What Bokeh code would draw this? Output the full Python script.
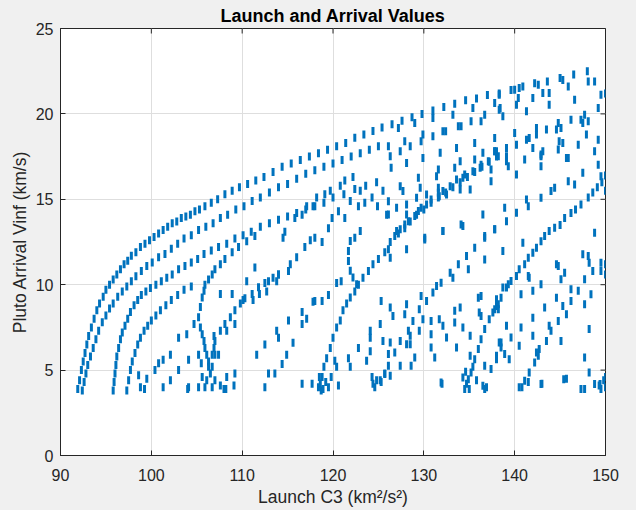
import math
from bokeh.plotting import figure
from bokeh.models import FixedTicker, Range1d, ColumnDataSource
from bokeh.embed import file_html
from bokeh.resources import INLINE

# ---------------- data (Launch C3, Pluto arrival Vinf) ----------------
x_ticks = [90, 100, 110, 120, 130, 140, 150]
y_ticks = [0, 5, 10, 15, 20, 25]

curve_outer = [(91.9,3.9),(92.1,4.4),(92.3,5.0),(92.5,5.5),(92.7,6.0),(92.9,6.5),(93.1,7.0),(93.4,7.5),
    (93.7,8.0),(94.0,8.5),(94.3,8.9),(94.7,9.3),(95.0,9.7),(95.4,10.0),(95.8,10.3),(96.2,10.6),(96.6,10.9),
    (97.0,11.2),(97.4,11.4),(97.8,11.7),(98.3,11.9),(98.8,12.2),(99.3,12.4),(99.8,12.6),(100.3,12.8),
    (100.8,13.0),(101.3,13.2),(101.8,13.4),(102.3,13.6),(102.8,13.7),(103.3,13.9),(103.8,14.0),(104.3,14.1),
    (104.8,14.3),(105.3,14.4),(105.9,14.6),(106.6,14.8),(107.3,15.0),(108.1,15.3),(108.9,15.5),(109.7,15.7),
    (110.6,15.9),(111.5,16.1),(112.4,16.3),(113.4,16.6),(114.4,16.9),(115.4,17.1),(116.4,17.3),(117.4,17.5),
    (118.4,17.7),(119.4,17.9),(120.4,18.1),(121.4,18.3),(122.4,18.6),(123.4,18.8),(124.4,19.0),(125.4,19.2),
    (126.5,19.4),(127.6,19.6),(128.7,19.8),(129.8,20.0),(131.0,20.2),(132.2,20.4),(133.4,20.6),(134.6,20.8),
    (135.8,20.9),(137.0,21.1),(138.3,21.2),(139.6,21.4),(140.9,21.6),(142.2,21.8),(143.6,21.9),(145.0,22.1),
    (146.5,22.3),(148.0,22.5)]

curve_second = [(92.4,3.8),(92.6,4.3),(92.8,4.8),(93.0,5.3),(93.3,5.8),(93.6,6.3),(93.9,6.8),(94.2,7.3),
    (94.6,7.8),(95.0,8.2),(95.4,8.6),(95.8,8.9),(96.3,9.3),(96.8,9.6),(97.3,9.9),(97.8,10.2),(98.3,10.5),
    (98.9,10.8),(99.5,11.1),(100.1,11.3),(100.8,11.6),(101.5,11.8),(102.2,12.1),(102.9,12.4),(103.6,12.7),
    (104.4,12.9),(105.2,13.2),(106.0,13.4),(106.8,13.6),(107.6,13.9),(108.4,14.1),(109.3,14.4),(110.2,14.6),
    (111.1,14.9),(112.0,15.1),(113.0,15.4),(114.0,15.7),(115.0,15.9),(116.0,16.2),(117.0,16.5),(118.0,16.7),
    (119.0,16.9),(120.0,17.1),(121.0,17.3),(122.0,17.5),(123.0,17.7),(124.0,17.9),(125.0,18.1)]

curve_third = [(95.8,3.8),(95.9,4.3),(96.0,4.8),(96.1,5.3),(96.2,5.8),(96.4,6.3),(96.6,6.8),(96.8,7.2),
    (97.1,7.6),(97.4,8.0),(97.7,8.4),(98.1,8.8),(98.5,9.1),(98.9,9.4),(99.4,9.6),(99.9,9.8),(100.5,10.0),
    (101.1,10.2),(101.7,10.4),(102.3,10.6),(103.0,10.9),(103.7,11.1),(104.4,11.3),(105.1,11.5),(105.8,11.8),
    (106.6,12.0),(107.4,12.2),(108.3,12.4),(109.2,12.7),(110.1,12.9),(111.0,13.1),(112.0,13.4),(113.0,13.6),
    (114.0,13.8),(115.0,14.0),(116.0,14.2),(117.0,14.4),(118.0,14.6),(119.0,14.8),(120.0,15.1),(121.2,15.3),
    (122.4,15.6),(123.6,15.8),(124.8,16.0)]

curve_fourth = [(97.3,3.8),(97.5,4.4),(97.7,5.0),(97.9,5.5),(98.2,6.0),(98.5,6.5),(98.8,6.9),(99.2,7.3),
    (99.6,7.6),(100.0,7.9),(100.5,8.2),(101.0,8.5),(101.6,8.8),(102.2,9.1),(102.9,9.4),(103.6,9.7),(104.4,9.9)]

hook_points = [(105.2,8.1),(105.4,8.7),(105.6,9.25),(105.8,9.65),(105.9,10.0),(106.3,10.3),(106.7,10.6),
    (107.0,10.9),(107.6,11.2),(108.1,11.5),(108.9,11.9),(109.6,12.2),(110.5,12.55),(111.4,12.85),
    (105.4,7.5),(105.6,7.1),(105.8,6.7),(105.9,6.3),(106.1,5.9),(106.3,5.5),(106.3,5.2),(106.5,4.8),
    (106.1,4.4),(105.9,4.0),(106.7,5.9),(106.9,6.3),(107.0,5.9),(106.7,5.2),(107.0,4.4),(106.7,4.0),
    (105.6,4.6),(105.5,5.4),(106.9,7.0),
    (107.0,6.7),(107.6,7.3),(108.1,7.7),(108.7,8.1),(109.2,8.5),(109.8,8.9),(110.3,9.2),(111.1,9.45),
    (111.8,9.85),(112.5,10.1),(113.4,10.4),(114.0,10.6),(115.1,10.8),(115.3,11.2),(116.0,11.6),
    (116.9,12.2),(117.5,12.6),(118.0,12.75),(118.8,12.5),(119.5,13.3),(119.9,13.9),(120.6,14.3),
    (121.3,13.9),(121.9,14.9),(122.8,14.6),(123.0,15.5),(123.5,14.8),(124.3,15.1),(124.9,14.6),
    (125.5,15.5),(125.9,14.1),(114.5,12.75),(114.7,13.1),(115.8,13.9),(116.6,14.1),(117.1,14.6),
    (117.8,14.6),(118.2,15.1),(119.1,15.3),(119.7,15.5),(120.8,15.8),(121.3,16.1),(122.2,16.3)]

sparse_low_left = [(98.6,4.7),(98.8,4.0),(99.5,4.5),(100.4,5.0),(100.8,5.4),(101.3,5.6),(101.3,4.0),
    (102.1,5.9),(102.1,4.4),(103.0,6.9),(103.0,5.0),(103.9,7.1),(104.1,5.6),(104.1,4.0),(104.7,7.7),
    (105.2,5.9),(105.2,4.0),(107.4,5.9),(107.6,9.45),(108.3,7.3),(108.3,4.6),(108.9,9.45),(109.2,7.7),
    (109.2,4.8),(110.1,9.1),(110.5,10.2),(111.4,11.0),(111.6,5.9),(112.5,6.5),(112.5,4.0),(112.9,4.8),
    (112.7,9.6),(112.9,10.2),(111.9,9.45),(111.2,9.1),(108.0,3.9),(109.1,4.1)]

mid_scatter = [(113.6,4.8),(114.4,5.35),(114.9,5.9),(115.6,6.6),(116.6,7.7),(117.1,8.0),(118.0,9.05),
    (118.8,9.05),(119.5,9.4),(120.4,10.1),(120.9,10.2),(113.8,10.2),(114.0,10.6),(115.1,7.9),(113.8,7.3),
    (114.0,6.9),(116.6,8.4),(117.8,9.0),(120.2,5.55),(120.4,5.2),(121.7,5.7),(121.9,5.2),(122.8,6.3),
    (124.1,6.9),(124.1,6.1),(123.7,5.55),(124.3,4.6),(124.8,4.4),(125.2,4.4),(125.7,4.8),(125.3,9.05),
    (124.1,7.3),(125.2,7.7),(125.5,6.7),(116.6,4.2),(117.7,4.2),(118.4,4.0),
    (121.9,12.56),(121.7,11.97),(121.7,11.39),(121.9,10.81),(122.2,10.42),(122.6,10.03),(122.4,12.75),
    (123.0,13.14),
    (126.1,12.07),(128.1,12.07),(126.3,11.58),(130.1,12.65),(132.1,13.14),(134.3,13.43),(137.8,13.24),
    (136.7,12.75),(135.6,12.16),(134.7,11.68),(136.7,11.48),(133.8,11.19),(134.9,10.90),(132.9,10.70),
    (133.2,10.41),(131.9,10.12),(131.4,9.93),(131.0,9.54),(130.3,9.05),(129.7,9.34),
    (126.3,8.66),(126.6,8.17),(128.1,8.85),(127.9,8.27),(128.8,7.88),(129.5,8.56),(129.9,7.98),
    (129.5,7.30),(128.3,7.30),(128.5,7.01),(128.1,6.52),(127.4,6.71),(126.3,6.62),(126.8,6.03),
    (128.5,6.52),(127.4,5.25),(128.6,5.25),(129.0,5.74),(126.1,5.94),(126.1,5.25),(125.7,4.77),
    (126.3,4.67),(130.8,7.88),(130.8,7.10),(130.8,6.33),(131.2,5.74),(131.7,7.98),(132.1,7.59),
    (132.5,6.91),(133.4,8.47),(133.4,7.78),(134.0,8.66),(134.3,7.49),(135.1,7.01),(133.6,6.33),
    (135.1,5.84),(131.9,4.28),(134.3,4.57)]

diag_mid = [(118.6,4.2),(118.7,3.8),(118.8,4.6),(119.0,5.2),(119.3,5.7),(119.7,6.3),(120.0,6.9),
    (120.4,7.5),(120.8,7.9),(121.1,8.5),(121.5,8.9),(121.9,9.25),(122.4,9.6),(122.8,10.0),(123.3,10.4),
    (123.9,10.8),(124.4,11.2),(125.0,11.5),(125.7,11.9),(126.3,12.5),(126.8,12.85),(127.2,13.0),
    (127.9,13.3),(128.5,13.7),(129.2,14.1),(130.0,14.4),(130.8,14.8),(131.6,15.1),(132.4,15.4),
    (133.2,15.7),(134.0,16.0),(134.8,16.3),(135.6,16.6),(136.4,16.9),(137.2,17.2),(138.0,17.5),
    (118.9,3.9),(119.2,4.3),(119.5,4.0),(119.8,4.6),(118.5,4.6)]

diag_right = [(134.5,3.89),(134.9,4.47),(135.2,4.86),(135.6,5.64),(136.0,6.23),(136.3,6.81),(136.7,7.40),
    (137.2,7.98),(137.6,8.37),(138.0,8.76),(136.0,9.24),(136.3,9.34),(136.1,8.37),(136.3,8.17),
    (136.7,5.25),(136.5,4.08),(138.0,5.84),(137.4,5.06),(138.3,6.62),(134.7,4.2),(135.0,3.9),(135.4,5.2),
    (135.8,4.4),(136.9,4.0),(134.6,4.9),
    (137.8,8.56),(138.2,8.85),(138.5,9.24),(138.7,9.83),(139.1,9.83),(139.3,10.02),(139.6,10.22),
    (140.2,10.51),(140.5,10.90),(141.1,11.19),(141.5,11.58),(142.0,11.87),(142.4,12.16),(142.9,12.55),
    (143.3,12.85),(143.8,13.14),(144.4,13.33),(145.0,13.5),(145.5,13.9),(146.2,14.2),(146.7,14.4),
    (147.3,14.7),(148.1,15.1),(148.6,15.4),(149.1,15.7),(149.6,16.0),(150.0,16.4)]

right_scatter = [(140.9,12.46),(138.7,11.97),(141.5,10.51),(141.6,10.41),(142.9,10.02),(140.7,9.44),
    (142.0,9.64),(143.3,8.66),(144.6,11.19),(144.8,11.09),(145.5,10.70),(145.1,10.32),(144.6,9.24),
    (145.3,8.76),(145.7,8.27),(146.2,9.73),(146.2,9.05),(147.0,9.64),(147.5,11.78),(148.1,11.68),
    (148.2,11.29),(148.6,10.80),(147.7,10.32),(148.8,13.04),(149.5,11.29),(149.5,10.80),(148.4,9.44),
    (147.7,8.85),(148.2,7.40),(138.2,8.56),(138.0,9.15),
    (139.1,7.59),(139.6,6.91),(140.7,7.49),(142.0,8.07),(142.0,7.01),(143.8,7.59),(144.0,7.30),
    (144.8,7.88),(143.5,6.71),(142.7,6.23),(142.4,6.03),(142.6,5.84),(142.2,5.45),(141.6,4.86),
    (141.1,4.38),(140.5,3.99),(138.5,6.62),(138.5,6.33),(138.9,5.94),(139.4,5.64),(138.0,5.64),
    (140.5,6.42),(145.1,6.71),(145.4,4.47),(142.9,4.18),(147.3,3.89),(147.7,5.74),(148.2,4.86),
    (148.8,4.18),(149.4,4.18),(149.5,3.89),(150.0,4.0),(150.0,4.6),(150.0,10.6),(150.0,11.2)]

upper_scatter = [(126.1,18.11),(126.3,17.52),(127.4,17.81),(127.9,18.40),(128.5,18.11),(129.7,18.40),
    (129.9,18.79),(131.0,18.69),(131.8,17.72),(132.1,18.98),(132.4,18.98),(133.6,18.01),(133.8,19.27),
    (134.1,19.27),(135.2,19.57),(135.6,18.30),(136.3,19.57),(136.7,19.95),(137.8,18.59),(137.8,17.81),
    (138.4,20.34),(127.2,19.18),(129.0,19.47),(131.0,19.76),(133.2,19.95),(135.4,20.34),(137.8,20.64),
    (126.4,16.84),(127.4,15.77),(127.7,15.48),(128.1,17.13),(129.4,16.26),(129.6,15.67),(129.9,17.42),
    (130.3,15.28),(130.8,14.99),(131.4,16.35),(131.6,16.74),(131.6,15.67),(131.7,15.18),(132.1,15.48),
    (132.5,15.28),(132.9,15.77),(133.4,16.84),(133.6,16.16),(134.0,17.23),(134.0,15.57),(134.3,16.26),
    (134.5,16.45),(135.1,15.57),(135.4,16.64),(135.6,17.33),(136.2,16.84),(136.3,17.03),(136.5,17.72),
    (137.1,17.23),(137.4,16.74),(137.4,16.06),(137.8,17.81),
    (126.1,14.89),(126.1,14.11),(127.0,14.50),(127.0,13.14),(127.4,13.24),(127.9,13.53),(128.1,14.70),
    (128.1,14.11),(128.3,13.72),(129.0,14.02),(129.2,15.09),(129.4,14.31),(129.7,14.50),(130.1,12.75),
    (130.3,14.70),(131.6,15.38),(132.1,13.14),(134.1,13.53),(136.5,14.11),(136.7,12.85),(137.8,13.24),
    (138.3,21.12),(140.0,21.42),(140.5,21.51),(140.4,20.93),(140.2,20.54),(142.6,21.71),(143.1,21.22),
    (143.8,21.22),(143.8,20.54),(145.3,21.99),(145.9,21.61),(146.6,20.83),(148.1,21.90),(148.8,21.90),
    (149.5,21.12),(149.2,20.34),(138.3,20.25),(138.7,19.86),(141.3,20.15),(142.0,20.93),
    (140.0,18.88),(140.2,18.20),(141.3,18.49),(141.6,18.59),(142.0,18.01),(142.4,19.18),(142.4,18.79),
    (142.9,17.62),(143.1,17.81),(143.5,19.08),(144.6,19.08),(144.8,19.47),(145.1,19.18),(144.9,18.40),
    (144.8,17.91),(145.3,18.30),(145.9,17.42),(146.2,19.66),(147.0,18.20),(147.3,19.66),(147.5,19.47),
    (147.7,19.95),(147.9,18.79),(148.1,19.57),(149.2,18.49),(148.8,17.81),(149.2,17.03),(149.5,16.35),
    (138.0,17.81),(138.2,17.52),(139.1,18.01),(139.1,17.52),(139.3,16.94),(139.1,17.23),(140.2,16.45),
    (141.1,17.33),(142.9,16.94),(142.9,17.52),(145.7,17.42),(145.9,16.06),(146.6,15.87),(147.5,16.55),
    (138.9,14.50),(139.1,13.72),(140.2,14.21),(141.3,14.99),(141.5,14.60),(142.9,15.09),(144.0,15.48),
    (144.4,15.67),(150.0,21.2),(150.0,15.5)]

bottom_row = [(120.6,4.1),(124.4,4.2),(124.6,4.0),(125.3,4.3),(132.0,4.2),(136.7,3.9),(140.8,4.0),
    (141.5,4.3),(143.0,4.2),(145.7,4.5),(147.7,3.9),(149.3,4.1),(149.8,4.4),(108.2,3.9),(107.6,4.1),
    (104.0,3.9),(99.25,3.9)]

groups = [curve_outer, curve_second, curve_third, curve_fourth, hook_points, sparse_low_left,
          mid_scatter, diag_mid, diag_right, right_scatter, upper_scatter, bottom_row]
c3 = [pt[0] for g in groups for pt in g]
vinf = [pt[1] for g in groups for pt in g]

# ---------------- figure ----------------
FONT = "Liberation Sans"
DARK = "#262626"
X_MIN, X_MAX = 90, 150
Y_MIN, Y_MAX = 0, 25

p = figure(width=636, height=510, x_range=Range1d(X_MIN, X_MAX), y_range=Range1d(Y_MIN, Y_MAX),
           output_backend="svg", toolbar_location=None,
           min_border_left=60, min_border_right=31, min_border_top=27, min_border_bottom=55,
           border_fill_color="#f0f0f0", background_fill_color="white")

p.title.text = "Launch and Arrival Values"
p.title.align = "center"
p.title.text_font = FONT
p.title.text_font_size = "18px"
p.title.text_font_style = "bold"
p.title.text_color = "#000000"
p.title.standoff = 6

p.outline_line_color = DARK
p.outline_line_width = 1

p.xgrid.ticker = FixedTicker(ticks=x_ticks)
p.ygrid.ticker = FixedTicker(ticks=y_ticks)
p.grid.grid_line_color = "#dedede"
p.grid.grid_line_width = 1

src = ColumnDataSource(data=dict(x=c3, y=vinf))
p.rect(x="x", y="y", width=3, height=8, width_units="screen", height_units="screen",
       fill_color="#0072BD", line_color=None, source=src)

# inward ticks on the right and top edges (box style); half of each dash is clipped by the frame
p.scatter(x=[X_MAX] * len(y_ticks), y=y_ticks, marker="dash", size=10, line_color=DARK, line_width=1)
p.scatter(x=x_ticks, y=[Y_MAX] * len(x_ticks), marker="dash", angle=math.pi / 2, size=10,
          line_color=DARK, line_width=1)

for ax in (p.xaxis[0], p.yaxis[0]):
    ax.axis_line_color = DARK
    ax.major_tick_line_color = DARK
    ax.major_tick_in = 5
    ax.major_tick_out = 0
    ax.minor_tick_line_color = None
    ax.major_label_text_font = FONT
    ax.major_label_text_font_size = "16px"
    ax.major_label_text_color = DARK
    ax.axis_label_text_font = FONT
    ax.axis_label_text_font_size = "17.5px"
    ax.axis_label_text_font_style = "normal"
    ax.axis_label_text_color = DARK

p.xaxis.ticker = FixedTicker(ticks=x_ticks)
p.yaxis.ticker = FixedTicker(ticks=y_ticks)
p.xaxis.axis_label = "Launch C3 (km\u00b2/s\u00b2)"
p.yaxis.axis_label = "Pluto Arrival Vinf (km/s)"
p.xaxis.major_label_standoff = 13
p.xaxis.axis_label_standoff = 3
p.yaxis.major_label_standoff = 7
p.yaxis.axis_label_standoff = 3

html = file_html(p, INLINE, title="Launch and Arrival Values")
html = html.replace("</head>", "<style>html, body { background: #f0f0f0; }</style></head>", 1)
open("out.html", "w").write(html)
